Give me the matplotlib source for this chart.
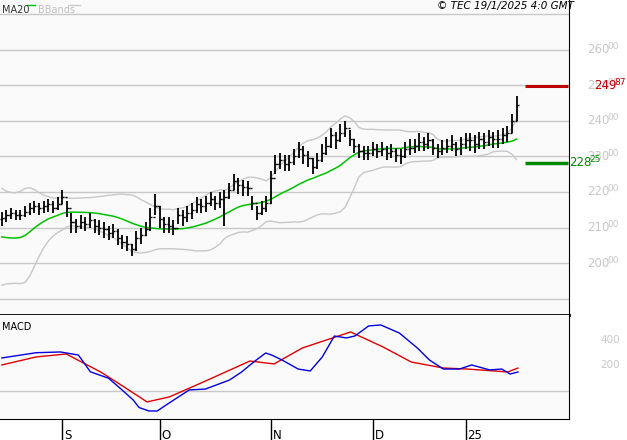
import matplotlib
matplotlib.use("Agg")
import matplotlib.pyplot as plt
import matplotlib.transforms as mt
import numpy as np
import pandas as pd

prior_closes = [218, 216, 214, 210, 203, 196, 194, 196, 199, 202, 205, 207, 208, 209, 210, 211, 212, 212, 213]
closes = [212.8, 213.5, 214, 213.5, 213.5, 214.5, 215.5, 216, 215.5, 216, 216.5, 215.5, 216.5, 218.5, 215.5,
          211.5, 210.5, 211.5, 211, 212, 210.5, 210, 209.5, 208.5, 209, 207, 206, 205.5, 204, 207,
          208, 209.5, 213, 216, 212.5, 211, 210.5, 210, 213.5, 213, 214, 215, 216.5, 216, 217,
          218, 217, 218, 218.5, 220.5, 223, 222, 221.5, 221, 217, 214, 215.5, 217, 224, 228,
          229, 228, 228.5, 230, 232, 230.5, 229.5, 227, 229, 231, 233, 236, 234.5, 236.5, 238,
          235, 233, 231.5, 231, 231, 232, 231.5, 232, 231, 231.5, 230.5, 230, 232, 232.5, 233,
          234, 233.5, 234.5, 232.5, 231.5, 232.5, 233, 233.5, 232, 233.5, 234.5, 234.5, 233.5, 235, 234,
          235.5, 235, 235, 236, 236.5, 240, 244.5]
highs = [214.5, 215, 215.5, 215, 215, 216, 217, 217.5, 217, 217.5, 218, 217.5, 218.5, 220.5, 217.5,
         214, 212.5, 213.5, 213, 214, 212.5, 212, 211.5, 210.5, 211, 209.5, 208, 207.5, 205.5, 209,
         210, 211.5, 215.5, 219.5, 216, 213, 213, 212, 215.5, 215, 216, 217, 218.5, 218, 219,
         220, 219, 220, 220.5, 222.5, 225, 224, 223.5, 223, 219, 216, 217.5, 219, 226, 230.5,
         231, 230.5, 230.5, 232, 234, 233, 231.5, 229.5, 231, 233.5, 235.5, 238, 237, 239, 240,
         237.5, 235, 233.5, 233, 233, 234, 233.5, 234, 233, 233.5, 232.5, 232, 234, 235, 235,
         236.5, 235.5, 236.5, 235, 233.5, 234.5, 235, 236, 234, 235.5, 236.5, 236.5, 236, 237, 236.5,
         237.5, 237, 237.5, 238, 238.5, 242, 247]
lows = [210.5, 211.5, 212.5, 212, 212, 213, 213.5, 214, 213.5, 214, 214.5, 214, 215, 216.5, 213,
        208.5, 208.5, 209.5, 209, 210, 208.5, 208, 207, 206.5, 207, 205, 204, 203.5, 202, 203.5,
        205.5, 207.5, 209, 213.5, 210, 208.5, 208.5, 208, 211, 210.5, 211.5, 212.5, 214, 214, 214.5,
        216, 215, 215.5, 210.5, 218, 220.5, 219.5, 219, 219, 215, 212, 213.5, 214.5, 216.5, 225,
        226.5, 226, 226, 227.5, 229.5, 228, 227, 225, 226.5, 228.5, 230.5, 232.5, 232, 234, 235.5,
        233, 231, 229.5, 229, 229, 230, 229.5, 230, 229, 229.5, 228.5, 228, 229.5, 230.5, 231,
        231.5, 231.5, 232, 230.5, 229.5, 230.5, 231, 231.5, 230, 230.5, 232, 231.5, 231, 232, 232,
        233, 232.5, 232.5, 233.5, 234, 236.5, 240]

macd_idx = [0, 7.4, 12.6, 13.9, 16.5, 19.1, 23, 25.7, 28.3, 29.6, 31.7, 33.5, 36.1, 40.4, 43.9, 49.1,
            51.7, 54.3, 56.9, 58.3, 60.4, 63.9, 66.5, 69.1, 71.7, 74.3, 76.1, 79.1, 81.7, 85.7, 89.6,
            92.2, 95.2, 98.7, 101.3, 105.2, 107.8, 109.6, 111.3]
macd_vals = [259, 300, 306, 298, 282, 150, 100, 15, -70, -130, -157, -157, -94, 8, 15, 86, 149,
             227, 298, 280, 243, 172, 157, 267, 431, 416, 431, 510, 518, 455, 337, 243, 172, 172,
             204, 165, 172, 133, 149]
sig_idx = [0, 7.4, 13.9, 21.3, 25.7, 31.3, 36.1, 43.0, 53.5, 58.7, 64.8, 75.2, 82.2, 88.3, 95.2, 100.4, 109.1, 111.3]
sig_vals = [204, 267, 290, 149, 47, -86, -47, 63, 235, 212, 337, 463, 345, 227, 180, 172, 149, 180]

tick_idx = [13, 34, 58, 80, 100]
tick_labels = ["S", "O", "N", "D", "25"]
price_ticks = [200, 210, 220, 230, 240, 250, 260]
macd_ticks = [200, 400]
last_high = 249.87
last_low = 228.25

W, H = 627, 440
fig = plt.figure(figsize=(W / 100, H / 100), dpi=100)
fig.patch.set_facecolor("white")
axr = 569 / W
ax = fig.add_axes([0, 1 - 315 / H, axr, 315 / H])
ax2 = fig.add_axes([0, 1 - 419 / H, axr, 104 / H])
for a in (ax, ax2):
    a.set_facecolor("#fafafa")
    for s in a.spines.values():
        s.set_visible(False)
    a.spines["right"].set_visible(True)
    a.spines["right"].set_color("black")
    a.set_xlim(-0.4, 122.3)
    a.tick_params(left=False, labelleft=False, right=False, labelright=False, bottom=False, labelbottom=False)

allc = pd.Series(prior_closes + closes)
ma = allc.rolling(20).mean().values[len(prior_closes):]
sd = allc.rolling(20).std(ddof=0).values[len(prior_closes):]
x = np.arange(len(closes))
opens = [closes[0] - 0.5] + closes[:-1]

ax.set_ylim(185.4, 274)
for p in range(190, 271, 10):
    ax.axhline(p, color="#c8c8c8", lw=1, zorder=0)
ax.plot(x, ma + 2 * sd, color="#c8c8c8", lw=1)
ax.plot(x, ma - 2 * sd, color="#c8c8c8", lw=1)
ax.plot(x, ma, color="#00c000", lw=1.1)
ax.vlines(x, lows, highs, color="black", lw=1.3)
ax.hlines(opens, x - 0.45, x, color="black", lw=1)
ax.hlines(closes, x, x + 0.45, color="black", lw=1)
ax.hlines(last_high, 112.8, 122.0, color="#c00000", lw=2.2)
ax.hlines(last_low, 112.8, 122.0, color="#008800", lw=2.5)
ax.spines["bottom"].set_visible(True)
ax.spines["bottom"].set_linewidth(2)


def pxtr(a, px):
    return mt.blended_transform_factory(
        mt.Affine2D().scale(1 / W, 1) + fig.transFigure, a.transData) if False else \
        mt.blended_transform_factory(fig.transFigure, a.transData)


def label(a, px, val, big, small, color, bs=8.5, ss=6.5, dy=0.0):
    tr = mt.blended_transform_factory(fig.transFigure, a.transData)
    t = a.text(px / W, val, big, transform=tr, color=color, fontsize=bs, va="center", ha="left")
    if small:
        off = mt.ScaledTranslation(0, 3 / 100, fig.dpi_scale_trans)
        a.text((px + 20.5) / W, val, small, transform=tr + off, color=color, fontsize=ss, va="center", ha="left")


for p in price_ticks:
    label(ax, 587, p, str(p), "00", "#c8c8c8")
label(ax, 594, last_high, "249", "87", "#c00000")
label(ax, 569, last_low, "228", "25", "#008800")

ax.text(2 / 569, 0.985, "MA20", transform=ax.transAxes, fontsize=7, color="#333333", va="top")
ax.plot([27 / 569, 35 / 569], [0.983, 0.983], transform=ax.transAxes, color="#00c000", lw=1)
ax.text(38 / 569, 0.985, "BBands", transform=ax.transAxes, fontsize=7, color="#c0c0c0", va="top")
ax.plot([70 / 569, 80 / 569], [0.983, 0.983], transform=ax.transAxes, color="#c8c8c8", lw=1)
fig.text(574 / W, 1 - 1 / H, "© TEC 19/1/2025 4:0 GMT", fontsize=7.5, style="italic", ha="right", va="top")

ax2.set_ylim(-220, 596)
ax2.axhline(0, color="#c8c8c8", lw=1)
ax2.plot(sig_idx, sig_vals, color="#e00000", lw=1)
ax2.plot(macd_idx, macd_vals, color="#0000e0", lw=1)
ax2.spines["bottom"].set_visible(True)
ax2.text(2 / 569, 0.93, "MACD", transform=ax2.transAxes, fontsize=7, va="top")
tr2 = mt.blended_transform_factory(fig.transFigure, ax2.transData)
for v in macd_ticks:
    ax2.text(600 / W, v, str(v), transform=tr2, color="#c8c8c8", fontsize=7.5, va="center", ha="left")

ax2.set_xticks(tick_idx)
ax2.set_xticklabels(tick_labels)
ax2.tick_params(bottom=True, labelbottom=True, direction="out", length=16, width=1, pad=-9, labelsize=8.5)
off = mt.ScaledTranslation(2 / 100, 0, fig.dpi_scale_trans)
for lab in ax2.get_xticklabels():
    lab.set_horizontalalignment("left")
    lab.set_transform(lab.get_transform() + off)

fig.savefig("out.png", dpi=100, facecolor="white")
